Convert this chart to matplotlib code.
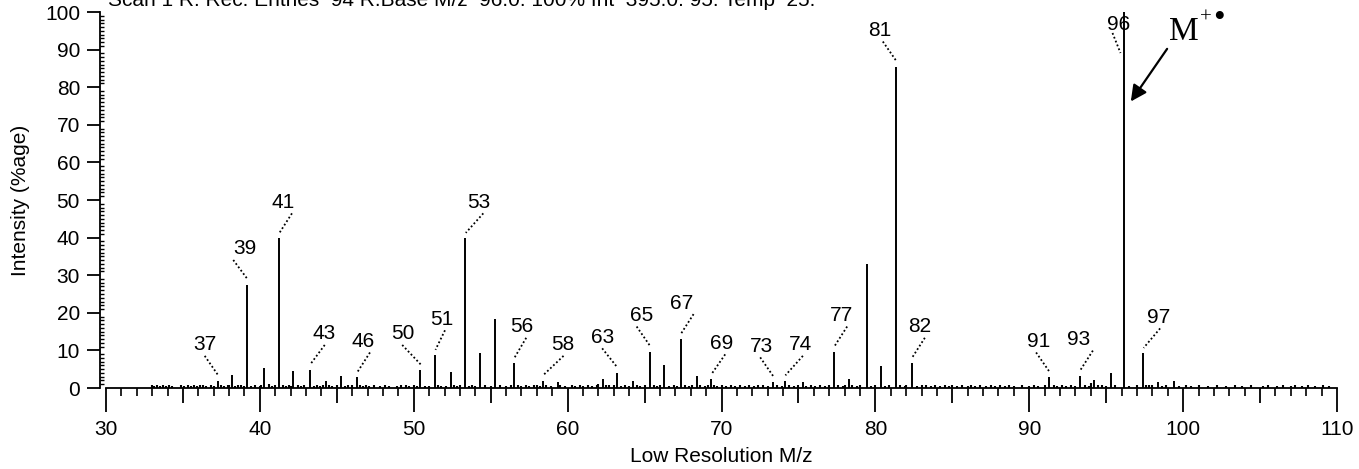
import numpy as np
import matplotlib
matplotlib.use('Agg')
import matplotlib.pyplot as plt
import matplotlib.transforms as mtransforms
from matplotlib.ticker import MultipleLocator, FixedLocator, FixedFormatter

plt.rcParams['font.family'] = 'Liberation Sans'

# main peaks (m/z as recorded, %age intensity)
peak_mz = [37.26, 38.21, 39.18, 40.29, 41.24, 42.17, 43.24, 44.30, 45.25, 46.31,
           50.42, 51.38, 52.40, 53.35, 54.28, 55.25, 56.53, 58.37, 59.35, 62.27,
           63.22, 64.26, 65.33, 66.28, 67.34, 68.38, 69.33, 73.36, 74.12, 75.31,
           77.32, 78.26, 79.45, 80.38, 81.33, 82.37, 91.29, 93.29, 94.22, 95.30,
           96.19, 97.40, 98.38, 99.42]
peak_int = [1.9, 3.5, 27.4, 5.3, 39.8, 4.4, 4.8, 1.9, 3.3, 2.8,
            4.8, 8.7, 4.3, 39.8, 9.2, 18.3, 6.7, 1.9, 1.5, 2.4,
            3.9, 1.9, 9.7, 6.2, 13.0, 3.3, 2.3, 1.5, 1.9, 1.5,
            9.7, 2.4, 33.0, 5.8, 85.5, 6.7, 2.8, 3.3, 2.2, 3.9,
            100.0, 9.2, 1.5, 1.9]

# baseline noise sticks (m/z, %age)
noise = [(33.0, 0.7), (33.15, 0.5), (33.3, 0.8), (33.5, 0.6), (33.7, 0.7), (33.9, 0.5),
         (34.1, 0.8), (34.3, 0.6), (34.9, 0.7), (35.1, 0.5), (35.3, 0.8), (35.5, 0.6),
         (35.7, 0.9), (35.9, 0.6), (36.1, 0.7), (36.3, 0.9), (36.5, 0.6), (36.8, 0.8),
         (37.0, 0.6), (37.5, 0.8), (37.7, 0.5), (37.9, 0.7), (38.0, 0.9), (38.4, 0.6),
         (38.6, 0.8), (38.8, 0.7), (39.0, 0.6), (39.4, 0.5), (39.7, 0.7), (40.0, 0.6),
         (40.1, 0.8), (40.6, 1.0), (40.8, 0.6), (41.0, 0.7), (41.5, 0.8), (41.7, 0.6),
         (41.9, 0.7), (42.0, 0.5), (42.5, 0.8), (42.7, 0.6), (42.9, 0.7), (43.5, 0.6),
         (43.7, 0.8), (43.9, 0.5), (44.1, 0.7), (44.5, 0.9), (44.7, 0.6), (45.0, 0.7),
         (45.5, 0.6), (45.7, 0.8), (46.0, 0.9), (46.5, 0.7), (46.7, 0.6), (46.9, 0.8),
         (47.1, 0.5), (47.4, 0.7), (47.8, 0.6), (48.1, 0.7), (48.4, 0.5), (48.9, 0.6),
         (49.2, 0.8), (49.5, 0.7), (49.7, 0.6), (50.0, 0.8), (50.2, 0.6), (50.7, 0.5),
         (51.0, 0.6), (51.6, 0.7), (51.8, 0.6), (52.1, 0.5), (52.6, 0.8), (52.8, 0.6),
         (53.0, 0.7), (53.6, 0.6), (53.8, 0.8), (54.0, 0.5), (54.6, 0.7), (55.0, 0.6),
         (55.6, 0.8), (56.0, 0.6), (56.3, 0.7), (56.8, 0.8), (57.0, 0.6), (57.3, 0.9),
         (57.5, 0.6), (57.8, 0.7), (58.0, 0.8), (58.2, 0.6), (58.6, 0.7), (58.9, 0.6),
         (59.5, 0.8), (59.8, 0.6), (60.3, 0.7), (60.5, 0.5), (60.8, 0.7), (61.0, 0.6),
         (61.3, 0.8), (61.6, 0.6), (61.9, 0.7), (62.0, 1.1), (62.5, 0.9), (62.7, 0.7),
         (63.0, 0.8), (63.5, 0.6), (63.7, 0.7), (64.0, 0.6), (64.5, 0.8), (64.7, 0.6),
         (65.0, 0.7), (65.6, 0.8), (65.8, 0.6), (66.0, 0.7), (66.6, 0.6), (66.9, 0.8),
         (67.1, 0.6), (67.6, 0.7), (67.9, 0.6), (68.1, 0.8), (68.6, 0.7), (68.9, 0.6),
         (69.1, 0.9), (69.5, 0.7), (69.7, 0.6), (70.0, 0.7), (70.3, 0.5), (70.6, 0.7),
         (70.9, 0.6), (71.2, 0.7), (71.5, 0.6), (71.8, 0.7), (72.1, 0.6), (72.4, 0.7),
         (72.7, 0.8), (73.0, 0.6), (73.6, 0.7), (73.9, 0.6), (74.4, 0.7), (74.7, 0.6),
         (75.0, 0.8), (75.5, 0.6), (75.8, 0.7), (76.1, 0.6), (76.4, 0.7), (76.7, 0.6),
         (77.0, 0.7), (77.6, 0.8), (77.9, 0.6), (78.0, 0.7), (78.5, 0.8), (78.8, 0.6),
         (79.0, 0.7), (79.7, 0.6), (80.0, 0.7), (80.6, 0.6), (80.9, 0.7), (81.6, 0.8),
         (81.9, 0.6), (82.0, 0.7), (82.7, 0.6), (83.0, 0.7), (83.3, 0.8), (83.6, 0.6),
         (83.9, 0.7), (84.2, 0.6), (84.5, 0.7), (84.8, 0.6), (85.0, 0.7), (85.3, 0.6),
         (85.6, 0.7), (86.0, 0.6), (86.2, 0.7), (86.5, 0.6), (86.8, 0.7), (87.2, 0.6),
         (87.5, 0.7), (87.8, 0.6), (88.1, 0.7), (88.4, 0.6), (88.7, 0.7), (89.0, 0.6),
         (89.5, 0.7), (90.0, 0.6), (90.3, 0.7), (90.6, 0.6), (91.0, 0.7), (91.6, 0.8),
         (91.8, 0.6), (92.1, 0.7), (92.4, 0.6), (92.7, 0.7), (93.0, 0.6), (93.6, 0.7),
         (93.9, 0.6), (94.0, 1.2), (94.5, 0.7), (94.7, 0.8), (95.0, 0.6), (95.6, 0.7),
         (96.5, 0.6), (97.0, 0.7), (97.6, 0.8), (97.8, 0.7), (98.0, 0.8), (98.6, 0.6),
         (98.9, 0.7), (99.7, 0.6), (100.2, 0.7), (100.5, 0.6), (101.0, 0.7), (101.6, 0.6),
         (102.2, 0.7), (102.8, 0.6), (103.4, 0.7), (103.8, 0.6), (104.4, 0.7), (105.2, 0.6),
         (105.5, 0.7), (106.1, 0.6), (106.5, 0.7), (107.0, 0.6), (107.3, 0.7), (107.7, 0.6),
         (108.1, 0.7), (108.6, 0.6), (109.1, 0.7), (109.5, 0.6)]
noise_mz = [n[0] for n in noise]
noise_int = [n[1] for n in noise]

# labelled nominal masses
labels = [37, 39, 41, 43, 46, 50, 51, 53, 56, 58, 63, 65, 67, 69, 73, 74, 77,
          81, 82, 91, 93, 96, 97]

# layout: label centre x offset, leader start x offset (pixels from bar top)
lab_dx = {37: -13, 39: -2, 41: 4, 43: 14, 46: 6, 50: -17, 51: 7, 53: 13, 56: 8,
          58: 20, 63: -15, 65: -8, 67: 1, 69: 10, 73: -12, 74: 16, 77: 7,
          81: -16, 82: 8, 91: -10, 93: -1, 97: 16}
lead_dx = {37: -13, 39: -14, 41: 13, 43: 15, 46: 13, 50: -18, 51: 10, 53: 18, 56: 12,
           58: 21, 63: -15, 65: -13, 67: 13, 69: 14, 73: -13, 74: 18, 77: 13,
           81: -13, 82: 13, 91: -13, 93: 13, 97: 17}

title = 'Scan 1 R: Rec: Entries  94 R.Base M/z  96.0: 100% Int  395.0: 95: Temp  25:'

W, H = 1359, 469
fig = plt.figure(figsize=(W / 100, H / 100), dpi=100)
ax = fig.add_axes([106 / W, 81 / H, 1231 / W, 376 / H])

ax.vlines(noise_mz, 0, noise_int, color='black', lw=1.5)
ax.vlines(peak_mz, 0, peak_int, color='black', lw=1.4)

ax.set_xlim(30, 110)
ax.set_ylim(0, 100)
for s in ['top', 'right']:
    ax.spines[s].set_visible(False)
ax.spines['left'].set_position(('outward', 4.3))
ax.spines['left'].set_linewidth(1.3)
ax.spines['bottom'].set_linewidth(1.3)

xmaj = list(range(30, 111, 5))
ax.xaxis.set_major_locator(FixedLocator(xmaj))
ax.xaxis.set_major_formatter(FixedFormatter([str(v) if v % 10 == 0 else '' for v in xmaj]))
ax.xaxis.set_minor_locator(MultipleLocator(1))
ax.yaxis.set_major_locator(MultipleLocator(10))
ax.yaxis.set_minor_locator(MultipleLocator(1))
ax.tick_params(axis='x', which='major', direction='out', length=17, width=1.3, pad=6, labelsize=15)
ax.tick_params(axis='x', which='minor', direction='out', length=5.8, width=1.2)
ax.tick_params(axis='y', which='major', direction='out', length=9.4, width=1.3, pad=5, labelsize=15)
ax.tick_params(axis='y', which='minor', direction='in', length=3, width=1.0)
for v, t in zip(xmaj, ax.xaxis.get_major_ticks()):
    if v % 10:
        t.tick1line.set_markersize(10.8)

ax.set_xlabel('Low Resolution M/z', fontsize=15)
ax.xaxis.set_label_coords(0.5, -0.156)
ax.set_ylabel('Intensity (%age)', fontsize=15)
ax.yaxis.set_label_coords(-0.062, 0.5)

# peak labels with dotted leaders
for lab in labels:
    i = [int(m) for m in peak_mz].index(lab)
    mz, h = peak_mz[i], peak_int[i]
    tr = mtransforms.Affine2D() + mtransforms.ScaledTranslation(mz, h, ax.transData)
    if lab == 96:
        tx, ty = -6, -12
        lx, ly = [-12, -4], [-21, -41]
    else:
        tx, ty = lab_dx[lab], 36
        lx, ly = [lead_dx[lab], 0.5], [25, 5.5]
    ax.plot(lx, ly, transform=tr, color='black', lw=1.3, ls=(0, (1, 1.3)), clip_on=False)
    ax.text(tx, ty, str(lab), transform=tr, ha='center', va='center', fontsize=15)

# molecular ion marker
ax.annotate('', xy=(96.6, 76.2), xytext=(98.96, 90.2),
            arrowprops=dict(arrowstyle='-|>', color='black', lw=1.6, mutation_scale=24,
                            shrinkA=0, shrinkB=0))
ax.text(99.1, 92.6, 'M', fontsize=24, family='Liberation Serif', ha='left', va='baseline')
ax.text(101.5, 98.4, '+', fontsize=15, family='Liberation Serif', ha='center', va='center')
ax.text(102.3, 98.1, '\u2022', fontsize=24, family='Liberation Serif', ha='center', va='center')

fig.text(108 / W, 1.0, title, fontsize=15, ha='left', va='center')

fig.savefig('out.png', dpi=100)
